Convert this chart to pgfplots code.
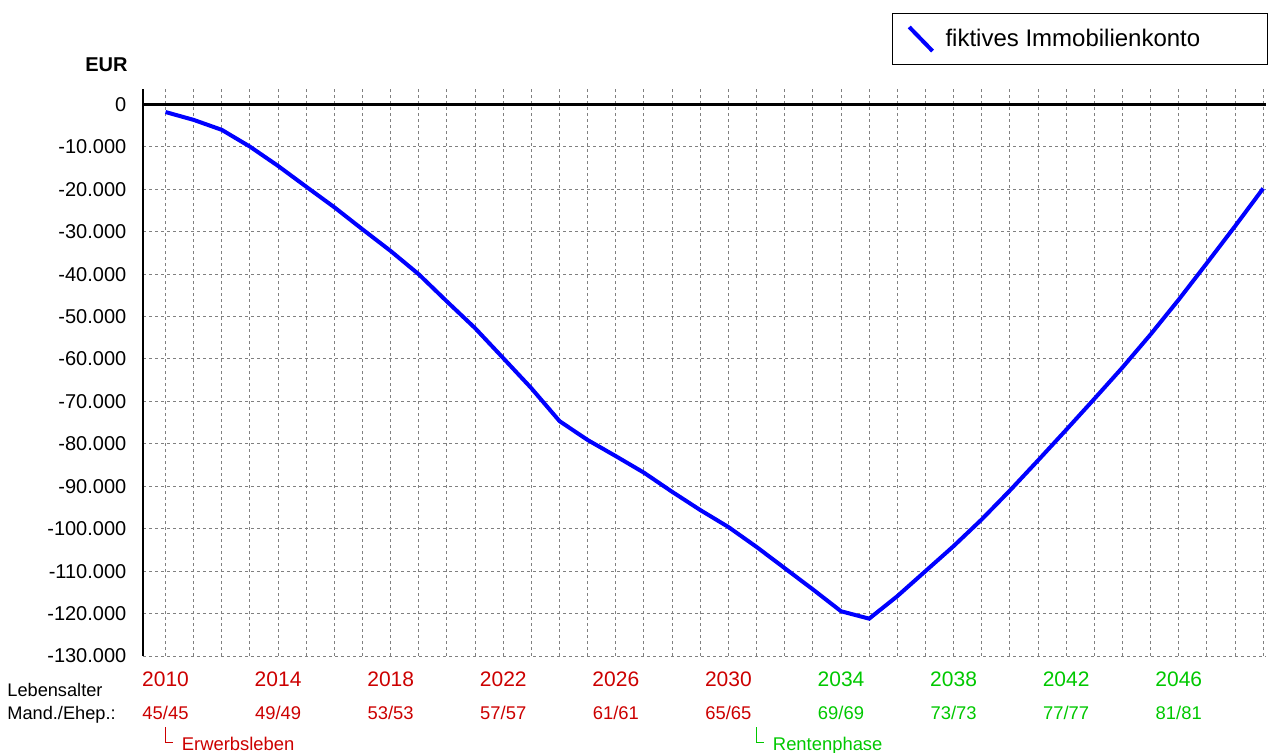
\documentclass[border=0pt]{standalone}
\usepackage{pgfplots}
\pgfplotsset{compat=1.18}
\usepackage{fontspec}
\setmainfont{Liberation Sans}
\definecolor{myred}{RGB}{204,0,0}
\definecolor{mygreen}{RGB}{0,200,0}
\definecolor{gridgray}{RGB}{128,128,128}
\pgfplotstableread{
year value
2010 -1800
2011 -3650
2012 -6000
2013 -9950
2014 -14500
2015 -19400
2016 -24250
2017 -29450
2018 -34550
2019 -40050
2020 -46460
2021 -52740
2022 -59800
2023 -66900
2024 -74650
2025 -79100
2026 -82900
2027 -86800
2028 -91300
2029 -95600
2030 -99600
2031 -104300
2032 -109300
2033 -114300
2034 -119450
2035 -121200
2036 -115900
2037 -110000
2038 -104100
2039 -97800
2040 -91000
2041 -83900
2042 -76700
2043 -69400
2044 -62000
2045 -54200
2046 -46000
2047 -37400
2048 -28700
2049 -19800
}\konto
\begin{document}
\begin{tikzpicture}
\useasboundingbox (0pt,0pt) rectangle (634.5pt,376pt);
\begin{axis}[
 at={(71.5pt,48pt)}, anchor=south west,
 scale only axis, width=561.5pt, height=283.5pt,
 xmin=2009.2, xmax=2049.1, ymin=-130000, ymax=3630,
 clip=false,
 axis lines*=left,
 x axis line style={draw=none},
 y axis line style={black, line width=1.3pt},
 xtick={2010,2011,2012,2013,2014,2015,2016,2017,2018,2019,2020,2021,2022,2023,2024,2025,2026,2027,2028,2029,2030,2031,2032,2033,2034,2035,2036,2037,2038,2039,2040,2041,2042,2043,2044,2045,2046,2047,2048,2049},
 xticklabels={\textcolor{myred}{2010},,,,\textcolor{myred}{2014},,,,\textcolor{myred}{2018},,,,\textcolor{myred}{2022},,,,\textcolor{myred}{2026},,,,\textcolor{myred}{2030},,,,\textcolor{mygreen}{2034},,,,\textcolor{mygreen}{2038},,,,\textcolor{mygreen}{2042},,,,\textcolor{mygreen}{2046},,,},
 ytick={-130000,-120000,-110000,-100000,-90000,-80000,-70000,-60000,-50000,-40000,-30000,-20000,-10000,0},
 yticklabels={-130.000,-120.000,-110.000,-100.000,-90.000,-80.000,-70.000,-60.000,-50.000,-40.000,-30.000,-20.000,-10.000,0},
 major tick length=0pt, minor tick length=0pt,
 minor tick num=0,
 xmajorgrids, ymajorgrids,
 major grid style={gridgray, line width=0.5pt, dash pattern=on 1.5pt off 1.5pt},
 extra y ticks={0},
 extra y tick labels={},
 extra y tick style={major grid style={black, solid, line width=1.3pt}},
 scaled y ticks=false,
 yticklabel style={font=\fontsize{10}{12}\selectfont, anchor=east, inner sep=0pt, xshift=-8.15pt},
 xticklabel style={font=\fontsize{10.5}{12}\selectfont, anchor=base, inner sep=0pt, yshift=-15.35pt},
 legend style={at={(1.0018,1.1335)}, anchor=north east, draw=black, line width=0.5pt,
   inner xsep=7.5pt, inner ysep=5.6pt, nodes={inner sep=0pt}, column sep=5.5pt,
   font=\fontsize{12}{14}\selectfont},
 legend image code/.code={\draw[#1] (0pt,6pt) -- (11.65pt,-6pt);},
]
\addplot[blue, line width=2pt] table[x=year, y=value] {\konto};
\addlegendentry{\makebox[153.5pt][l]{fiktives Immobilienkonto}}

\node[anchor=base, inner sep=0pt, font=\fontsize{9.2}{11}\selectfont, text=myred, yshift=-31.65pt] at (axis cs:2010,-130000) {45/45};
\node[anchor=base, inner sep=0pt, font=\fontsize{9.2}{11}\selectfont, text=myred, yshift=-31.65pt] at (axis cs:2014,-130000) {49/49};
\node[anchor=base, inner sep=0pt, font=\fontsize{9.2}{11}\selectfont, text=myred, yshift=-31.65pt] at (axis cs:2018,-130000) {53/53};
\node[anchor=base, inner sep=0pt, font=\fontsize{9.2}{11}\selectfont, text=myred, yshift=-31.65pt] at (axis cs:2022,-130000) {57/57};
\node[anchor=base, inner sep=0pt, font=\fontsize{9.2}{11}\selectfont, text=myred, yshift=-31.65pt] at (axis cs:2026,-130000) {61/61};
\node[anchor=base, inner sep=0pt, font=\fontsize{9.2}{11}\selectfont, text=myred, yshift=-31.65pt] at (axis cs:2030,-130000) {65/65};
\node[anchor=base, inner sep=0pt, font=\fontsize{9.2}{11}\selectfont, text=mygreen, yshift=-31.65pt] at (axis cs:2034,-130000) {69/69};
\node[anchor=base, inner sep=0pt, font=\fontsize{9.2}{11}\selectfont, text=mygreen, yshift=-31.65pt] at (axis cs:2038,-130000) {73/73};
\node[anchor=base, inner sep=0pt, font=\fontsize{9.2}{11}\selectfont, text=mygreen, yshift=-31.65pt] at (axis cs:2042,-130000) {77/77};
\node[anchor=base, inner sep=0pt, font=\fontsize{9.2}{11}\selectfont, text=mygreen, yshift=-31.65pt] at (axis cs:2046,-130000) {81/81};

\draw[myred, line width=0.5pt] (axis cs:2010,-130000) ++(0pt,-35.5pt) -- ++(0pt,-7.65pt) -- ++(3.65pt,0pt);
\node[anchor=base west, inner sep=0pt, font=\fontsize{9.2}{11}\selectfont, text=myred, xshift=8pt, yshift=-47pt] at (axis cs:2010,-130000) {Erwerbsleben};
\draw[mygreen, line width=0.5pt] (axis cs:2031,-130000) ++(0pt,-35.5pt) -- ++(0pt,-7.65pt) -- ++(3.65pt,0pt);
\node[anchor=base west, inner sep=0pt, font=\fontsize{9.2}{11}\selectfont, text=mygreen, xshift=8pt, yshift=-47pt] at (axis cs:2031,-130000) {Rentenphase};
\end{axis}
\node[anchor=base west, inner sep=0pt, font=\bfseries\fontsize{10}{12}\selectfont] at (42.5pt,340.15pt) {EUR};
\node[anchor=base west, inner sep=0pt, font=\fontsize{9.1}{11}\selectfont] at (3.5pt,27.65pt) {Lebensalter};
\node[anchor=base west, inner sep=0pt, font=\fontsize{9.1}{11}\selectfont] at (3.5pt,16.35pt) {Mand./Ehep.:};
\end{tikzpicture}
\end{document}
